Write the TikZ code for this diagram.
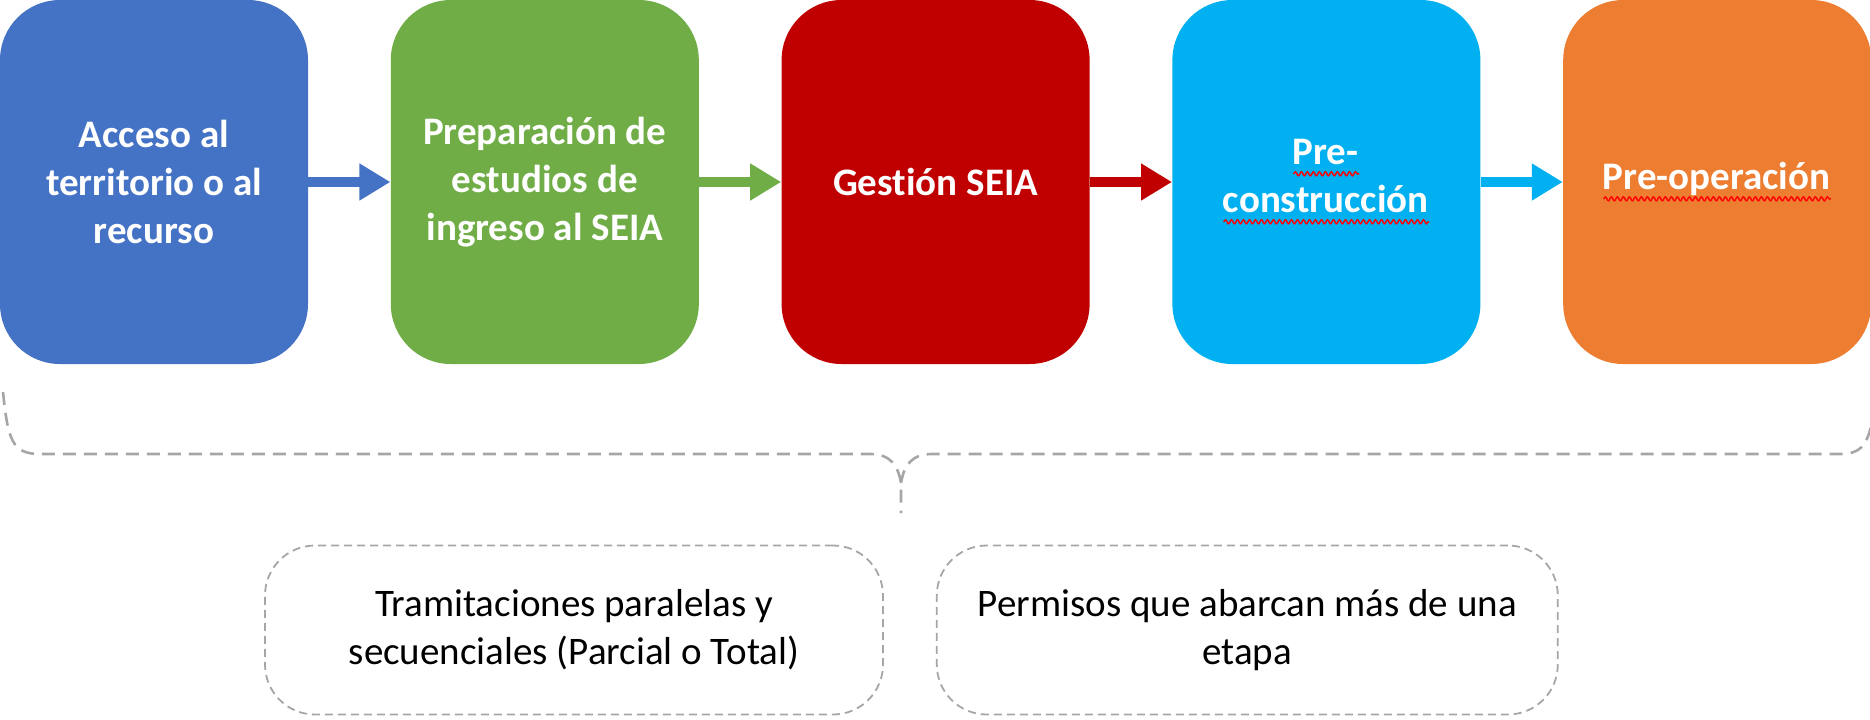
\documentclass[tikz,border=0pt]{standalone}
\usepackage{fontspec}
\setmainfont{Carlito}[Ligatures=NoCommon]
\usetikzlibrary{positioning,arrows.meta,decorations.pathmorphing}
\definecolor{acceso}{HTML}{4472C4}
\definecolor{preparacion}{HTML}{70AD47}
\definecolor{gestion}{HTML}{C00000}
\definecolor{precons}{HTML}{00B0F0}
\definecolor{preop}{HTML}{ED7D31}
\colorlet{dash line}{black!35}
\colorlet{squiggle}{red}
\newcommand\squig[1]{\setbox0\hbox{#1}\leavevmode\rlap{\copy0}%
  \tikz[baseline=0pt]\draw[squiggle, sharp corners, solid, line width=0.7pt, decorate,
    decoration={snake, amplitude=1pt, segment length=3pt}] (0pt,-4.5pt) -- (\wd0,-4.5pt);}
\tikzset{stage/.style={rectangle, rounded corners=30pt, minimum width=154pt,
        minimum height=182pt, align=center, text=white,
        font=\fontsize{19.5}{24}\selectfont\bfseries},
    link/.style={line width=5pt, -{Triangle[length=15.5pt,width=17.5pt]}},
    note/.style={draw=dash line, line width=0.9pt, dash pattern=on 4pt off 2.5pt,
        rounded corners=25pt, minimum height=84.5pt, align=center,
        font=\fontsize{19.5}{24}\selectfont},
    bracket/.style={draw=dash line, line width=1.3pt, dash pattern=on 6.5pt off 4pt}}

\begin{document}
\begin{tikzpicture}[x=0.5pt, y=-0.5pt, node distance=41pt]
    \useasboundingbox (0,0) rectangle (1870,719);
    % stages
    \node[stage, fill=acceso] (acceso) at (154,182) {Acceso al\\territorio o al\\recurso};
    \node[stage, fill=preparacion, right=of acceso] (preparacion)
      {Preparación de\\estudios de\\ingreso al SEIA};
    \node[stage, fill=gestion, right=of preparacion] (gestion) {Gestión SEIA};
    \node[stage, fill=precons, right=of gestion] (precons)
      {\squig{Pre-}\\\squig{construcción}};
    \node[stage, fill=preop, right=of precons] (preop) {\squig{Pre-operación}};
    \draw[link, acceso] (acceso) -- (preparacion);
    \draw[link, preparacion] (preparacion) -- (gestion);
    \draw[link, gestion] (gestion) -- (precons);
    \draw[link, precons] (precons) -- (preop);
    % brace under the stages
    \draw[bracket] (3,392) .. controls (8,440) and (12,454) .. (40,454) -- (870,454)
      .. controls (890,454) and (898,465) .. (901,483) -- (901,513);
    \draw[bracket] (901,483) .. controls (904,465) and (912,454) .. (932,454)
      -- (1840,454) .. controls (1866,454) and (1871,440) .. (1876,392);
    % notes
    \node[note, minimum width=309pt] (tramit) at (574,630)
      {Tramitaciones paralelas y\\secuenciales (Parcial o Total)};
    \node[note, minimum width=310.5pt, right=26pt of tramit] (permisos)
      {Permisos que abarcan más de una\\etapa};
\end{tikzpicture}
\end{document}
